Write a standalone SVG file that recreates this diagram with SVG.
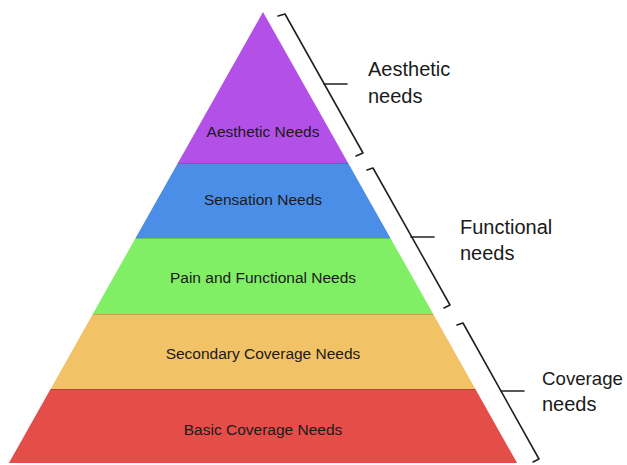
<svg xmlns="http://www.w3.org/2000/svg" width="627" height="465" viewBox="0 0 627 465">
  <style>
    .tier-label { font-family: "Liberation Sans", Arial, sans-serif; font-size: 15.5px; fill: #1a1a1a; text-anchor: middle; }
    .group-label { font-family: "Liberation Sans", Arial, sans-serif; font-size: 20px; fill: #1a1a1a; }
    .group-label.tight { font-size: 19px; }
    .seam { stroke: #000; stroke-opacity: 0.18; stroke-width: 1; }
    .bracket { fill: none; stroke: #222; stroke-width: 1.6; stroke-linejoin: round; stroke-linecap: round; }
  </style>
  <rect width="627" height="465" fill="#ffffff"/>

  <!-- pyramid tiers, top to bottom -->
  <g id="aesthetic-tier">
    <polygon points="263,12 348.1,163 177.9,163" fill="#b350e7"/>
    <text class="tier-label" x="263" y="137">Aesthetic Needs</text>
  </g>
  <g id="sensation-tier">
    <polygon points="177.9,163 348.1,163 390.4,238 135.6,238" fill="#4a8ee8"/>
    <line class="seam" x1="177.9" y1="163.5" x2="348.1" y2="163.5"/>
    <text class="tier-label" x="263" y="205">Sensation Needs</text>
  </g>
  <g id="functional-tier">
    <polygon points="135.6,238 390.4,238 433.2,314 92.8,314" fill="#80ef66"/>
    <line class="seam" x1="135.6" y1="238.5" x2="390.4" y2="238.5"/>
    <text class="tier-label" x="263" y="283">Pain and Functional Needs</text>
  </g>
  <g id="secondary-coverage-tier">
    <polygon points="92.8,314 433.2,314 475.4,389 50.6,389" fill="#f2c266"/>
    <line class="seam" x1="92.8" y1="314.5" x2="433.2" y2="314.5"/>
    <text class="tier-label" x="263" y="359">Secondary Coverage Needs</text>
  </g>
  <g id="basic-coverage-tier">
    <polygon points="50.6,389 475.4,389 517.1,463 8.9,463" fill="#e54d49"/>
    <line class="seam" x1="50.6" y1="389.5" x2="475.4" y2="389.5"/>
    <text class="tier-label" x="263" y="435">Basic Coverage Needs</text>
  </g>

  <!-- brackets grouping the tiers -->
  <g id="connectors">
    <path class="bracket" d="M278,16 L285,14 L363,153 L356,156"/>
    <line class="bracket" x1="324" y1="84" x2="347" y2="84"/>
    <path class="bracket" d="M367,170 L373,168 L450,305 L444,308"/>
    <line class="bracket" x1="411" y1="237" x2="434" y2="237"/>
    <path class="bracket" d="M457,325 L463,323 L539,459 L533,462"/>
    <line class="bracket" x1="501" y1="391" x2="524" y2="391"/>
  </g>

  <g id="aesthetic-group-label">
    <text class="group-label" x="368" y="76">Aesthetic</text>
    <text class="group-label" x="368" y="103">needs</text>
  </g>
  <g id="functional-group-label">
    <text class="group-label" x="460" y="234">Functional</text>
    <text class="group-label" x="460" y="260">needs</text>
  </g>
  <g id="coverage-group-label">
    <text class="group-label tight" x="542" y="385" textLength="81" lengthAdjust="spacingAndGlyphs">Coverage</text>
    <text class="group-label" x="542" y="411">needs</text>
  </g>
</svg>
